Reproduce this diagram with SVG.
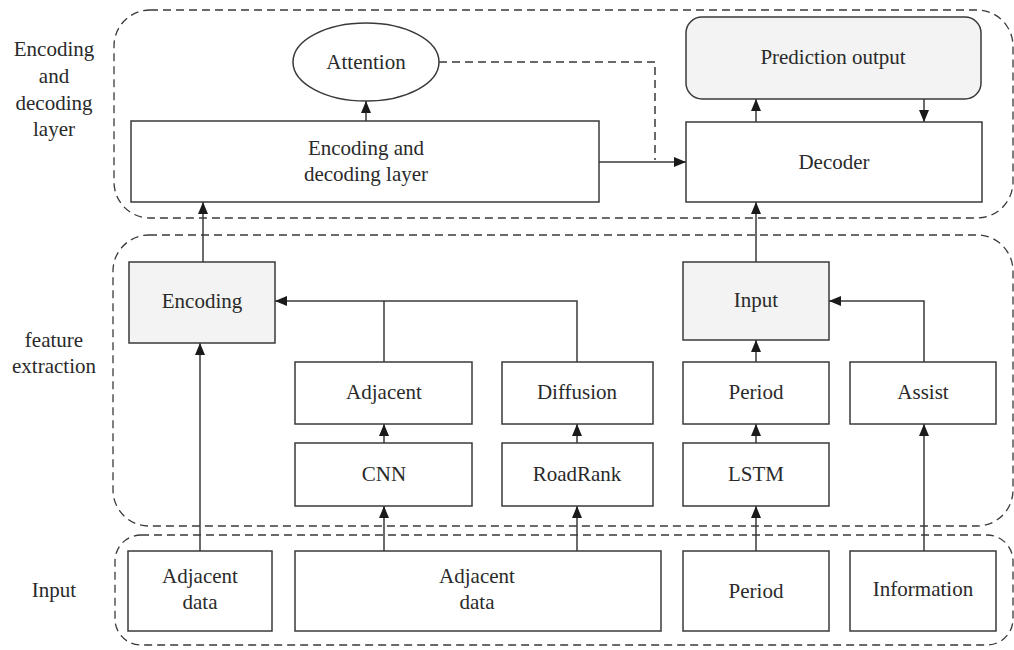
<svg xmlns="http://www.w3.org/2000/svg" width="1014" height="650" viewBox="0 0 1014 650">
<defs>
<style>
.grp{fill:none;stroke:#3a3a3a;stroke-width:1.3;stroke-dasharray:8 5}
.box{fill:#fff;stroke:#3a3a3a;stroke-width:1.5}
.gbox{fill:#f2f3f2;stroke:#3a3a3a;stroke-width:1.5}
.ln{fill:none;stroke:#3a3a3a;stroke-width:1.5}
.dln{fill:none;stroke:#3a3a3a;stroke-width:1.5;stroke-dasharray:8 5}
text{font-family:"Liberation Serif","Times New Roman",serif;font-size:21px;fill:#2a2a2a;text-anchor:middle}
</style>
<marker id="ah" viewBox="0 0 12 10" refX="12" refY="5" markerWidth="12" markerHeight="10" markerUnits="userSpaceOnUse" orient="auto">
<path d="M0,0 L12,5 L0,10 z" fill="#1a1a1a"/>
</marker>
</defs>
<rect width="1014" height="650" fill="#fff"/>

<g id="groups">
<rect class="grp" x="114" y="10" width="899" height="208" rx="36"/>
<rect class="grp" x="113" y="235" width="900" height="291" rx="36"/>
<rect class="grp" x="115" y="535" width="898" height="110" rx="26"/>
</g>

<g id="labels">
<text x="54" y="56">Encoding</text>
<text x="54" y="83">and</text>
<text x="54" y="110">decoding</text>
<text x="54" y="136">layer</text>
<text x="54" y="347">feature</text>
<text x="54" y="373">extraction</text>
<text x="54" y="597">Input</text>
</g>

<g id="connectors">
<path class="ln" d="M366,121 V101" marker-end="url(#ah)"/>
<path class="dln" d="M439,62 H655 V160"/>
<path class="ln" d="M599,162 H686" marker-end="url(#ah)"/>
<path class="ln" d="M756,122 V99" marker-end="url(#ah)"/>
<path class="ln" d="M924,99 V122" marker-end="url(#ah)"/>
<path class="ln" d="M203,262 V202" marker-end="url(#ah)"/>
<path class="ln" d="M756,262 V202" marker-end="url(#ah)"/>
<path class="ln" d="M200,551 V343" marker-end="url(#ah)"/>
<path class="ln" d="M384,362 V301"/>
<path class="ln" d="M577,362 V301 H275" marker-end="url(#ah)"/>
<path class="ln" d="M924,362 V301 H829" marker-end="url(#ah)"/>
<path class="ln" d="M756,362 V340" marker-end="url(#ah)"/>
<path class="ln" d="M384,443 V424" marker-end="url(#ah)"/>
<path class="ln" d="M577,443 V424" marker-end="url(#ah)"/>
<path class="ln" d="M756,443 V424" marker-end="url(#ah)"/>
<path class="ln" d="M384,551 V506" marker-end="url(#ah)"/>
<path class="ln" d="M577,551 V506" marker-end="url(#ah)"/>
<path class="ln" d="M756,551 V506" marker-end="url(#ah)"/>
<path class="ln" d="M924,551 V424" marker-end="url(#ah)"/>
</g>

<g id="attention">
<ellipse class="box" cx="366" cy="62" rx="73" ry="39"/>
<text x="366" y="69">Attention</text>
</g>
<g id="encdec">
<rect class="box" x="131" y="121" width="468" height="81"/>
<text x="366" y="155">Encoding and</text>
<text x="366" y="181">decoding layer</text>
</g>
<g id="prediction">
<rect class="gbox" x="686" y="17" width="295" height="82" rx="16"/>
<text x="833" y="64">Prediction output</text>
</g>
<g id="decoder">
<rect class="box" x="686" y="122" width="296" height="80"/>
<text x="834" y="169">Decoder</text>
</g>

<g id="encoding">
<rect class="gbox" x="129" y="262" width="146" height="81"/>
<text x="202" y="308">Encoding</text>
</g>
<g id="input">
<rect class="gbox" x="683" y="262" width="146" height="78"/>
<text x="756" y="307">Input</text>
</g>
<g id="adjacent">
<rect class="box" x="295" y="362" width="177" height="62"/>
<text x="384" y="399">Adjacent</text>
</g>
<g id="diffusion">
<rect class="box" x="502" y="362" width="151" height="62"/>
<text x="577" y="399">Diffusion</text>
</g>
<g id="period">
<rect class="box" x="683" y="362" width="146" height="62"/>
<text x="756" y="399">Period</text>
</g>
<g id="assist">
<rect class="box" x="850" y="362" width="146" height="62"/>
<text x="923" y="399">Assist</text>
</g>
<g id="cnn">
<rect class="box" x="295" y="443" width="177" height="63"/>
<text x="384" y="481">CNN</text>
</g>
<g id="roadrank">
<rect class="box" x="502" y="443" width="151" height="63"/>
<text x="577" y="481">RoadRank</text>
</g>
<g id="lstm">
<rect class="box" x="683" y="443" width="146" height="63"/>
<text x="756" y="481">LSTM</text>
</g>

<g id="adjdata1">
<rect class="box" x="128" y="551" width="144" height="80"/>
<text x="200" y="583">Adjacent</text>
<text x="200" y="609">data</text>
</g>
<g id="adjdata2">
<rect class="box" x="295" y="551" width="366" height="80"/>
<text x="477" y="583">Adjacent</text>
<text x="477" y="609">data</text>
</g>
<g id="period2">
<rect class="box" x="683" y="551" width="146" height="80"/>
<text x="756" y="598">Period</text>
</g>
<g id="information">
<rect class="box" x="850" y="551" width="146" height="80"/>
<text x="923" y="596">Information</text>
</g>
</svg>
